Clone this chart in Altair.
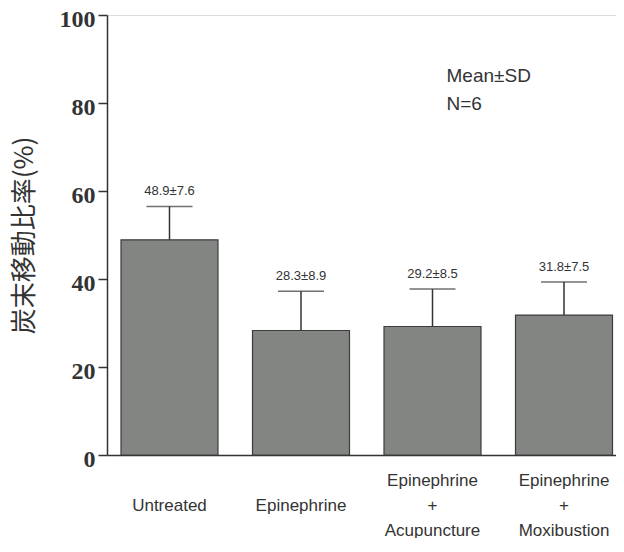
import altair as alt
import pandas as pd

categories = ["Untreated", "Epinephrine", "Epinephrine\n+\nAcupuncture", "Epinephrine\n+\nMoxibustion"]
means = [48.9, 28.3, 29.2, 31.8]
sds = [7.6, 8.9, 8.5, 7.5]

note_lines = ["Mean±SD", "N=6"]
note_y = [84.8, 78.5]
note_cat = categories[2]

df = pd.DataFrame({"cat": categories, "mean": means, "sd": sds})
df["top"] = df["mean"] + df["sd"]
df["label"] = [f"{m:.1f}±{s:.1f}" for m, s in zip(means, sds)]

note_df = pd.DataFrame({"cat": [note_cat] * len(note_lines), "y": note_y, "text": note_lines})

xscale = alt.Scale(domain=categories, paddingInner=0.2624, paddingOuter=0.0665, align=0.8, round=False)
yscale = alt.Scale(domain=[0, 100], nice=False, zero=True)

x_enc = alt.X(
    "cat:N", scale=xscale, sort=categories, title=None,
    axis=alt.Axis(
        labelExpr="length(split(datum.label, '\\n')) == 1 ? ['', datum.label] : split(datum.label, '\\n')",
        labelAngle=0, ticks=False,
        labelFont="Liberation Sans", labelFontSize=17, labelColor="#333333",
        labelLineHeight=25, labelBaseline="top", labelPadding=17,
        domainColor="#333333", domainWidth=1.5, labelAlign="center",
    ),
)

base = alt.Chart(df)

bars = base.mark_bar(color="#828582", stroke="#3c3c3c", strokeWidth=1.2).encode(
    x=x_enc,
    y=alt.Y(
        "mean:Q", scale=yscale, title="炭末移動比率(%)",
        axis=alt.Axis(
            values=[0, 20, 40, 60, 80, 100], grid=False, tickSize=9, tickColor="#333333",
            tickWidth=1.5, domainColor="#333333", domainWidth=1.5,
            labelFont="Liberation Serif", labelFontWeight="bold", labelFontSize=24,
            labelColor="#333333", labelPadding=3, labelOffset=4, labelBaseline="middle",
            titleFont="Noto Sans CJK JP", titleFontSize=26, titleFontWeight="normal",
            titleColor="#333333", titleX=-83, titleY=220, titleAngle=270,
            titleBaseline="middle", titleAlign="center",
        ),
    ),
)

stem = base.mark_rule(color="#333333", strokeWidth=1.5).encode(
    x=alt.X("cat:N", scale=xscale, sort=categories),
    y=alt.Y("mean:Q", scale=yscale),
    y2="top:Q",
)

cap = base.mark_tick(color="#333333", thickness=1.5, size=46, orient="horizontal").encode(
    x=alt.X("cat:N", scale=xscale, sort=categories),
    y=alt.Y("top:Q", scale=yscale),
)

labels = base.mark_text(
    font="Liberation Sans", fontSize=13, color="#333333", dy=-11, baseline="alphabetic"
).encode(
    x=alt.X("cat:N", scale=xscale, sort=categories),
    y=alt.Y("top:Q", scale=yscale),
    text="label:N",
)

note = alt.Chart(note_df).mark_text(
    font="Liberation Sans", fontSize=19, color="#333333", align="left", dx=14, baseline="alphabetic"
).encode(
    x=alt.X("cat:N", scale=xscale, sort=categories),
    y=alt.Y("y:Q", scale=yscale),
    text="text:N",
)

chart = alt.layer(bars, stem, cap, labels, note).properties(
    width=509, height=440,
    autosize=alt.AutoSizeParams(type="none"),
    padding={"left": 99, "top": 7, "right": 0, "bottom": 83},
).configure_view(stroke=None).configure(background="white")

chart.save("out.html", embed_options={"renderer": "svg", "actions": False})
